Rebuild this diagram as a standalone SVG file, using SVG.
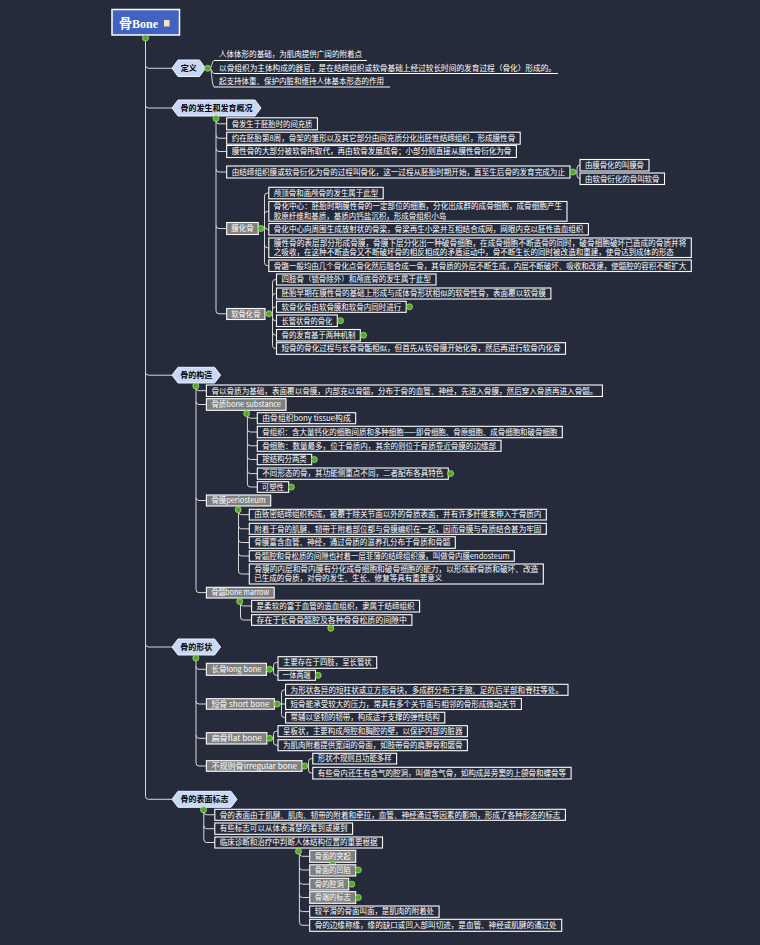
<svg xmlns="http://www.w3.org/2000/svg" width="760" height="945" viewBox="0 0 760 945">
<style>
.bx{fill:#262b3b;stroke:#ffffff;stroke-width:1.1}
.gy{fill:#7f7f7f;stroke:#ffffff;stroke-width:1.1}
.hx{fill:#c9d8f7;stroke:#eef3ff;stroke-width:1}
.t{font-family:"Noto Sans CJK SC","Noto Sans",sans-serif;font-size:7.5px;fill:#ffffff}
.ht{font-family:"Noto Sans CJK SC","Noto Sans",sans-serif;font-size:8px;font-weight:bold;fill:#000000;text-anchor:middle}
.dot{fill:#52a82a;stroke:#a6e07a;stroke-width:0.8}
.cn{fill:none;stroke:#d9d9d9;stroke-width:1}
.ul{stroke:#ffffff;stroke-width:1.1}
</style>
<rect x="0" y="0" width="760" height="945" fill="#262b3b"/>

<g id="connectors" class="cn">
<path d="M145.5,41 V796.3 Q145.5,799.3 148.5,799.3 H172 M145.5,65.25 Q145.5,68.25 148.5,68.25 H172 M145.5,105 Q145.5,108 148.5,108 H172 M145.5,372.2 Q145.5,375.2 148.5,375.2 H172 M145.5,644 Q145.5,647 148.5,647 H172"/>
<path d="M210,68.25 C212,68.25 211.5,60.5 214.5,60.5 M210,68.25 C212,68.25 211.5,73.5 214.5,73.5 M210,68.25 C212,68.25 211.5,87 214.5,87"/>
<path d="M216,121 V310.8 Q216,313.8 219,313.8 H226.7 M216,120.8 Q216,123.8 219,123.8 H226.7 M216,135.2 Q216,138.2 219,138.2 H226.7 M216,148.5 Q216,151.5 219,151.5 H226.7 M216,169 Q216,172 219,172 H226.7 M216,225.5 Q216,228.5 219,228.5 H226.7"/>
<path d="M575,172 H577 M577,172 V168 Q577,165 580,165 M577,172 V175.5 Q577,178.5 580,178.5"/>
<path d="M263,228.5 H264.5 M264.5,196 V262.7 M264.5,196 Q264.5,193 267.5,193 H268.8 M264.5,214.4 Q264.5,211.4 267.5,211.4 H268.8 M264.5,226.2 Q264.5,229.2 267.5,229.2 H268.8 M264.5,244.8 Q264.5,247.8 267.5,247.8 H268.8 M264.5,262.7 Q264.5,265.7 267.5,265.7 H268.8"/>
<path d="M271,313.8 H272.5 M272.5,282.5 V345.5 M272.5,282.5 Q272.5,279.5 275.5,279.5 H276.5 M272.5,296.5 Q272.5,293.5 275.5,293.5 H276.5 M272.5,309.8 Q272.5,306.8 275.5,306.8 H276.5 M272.5,317.7 Q272.5,320.7 275.5,320.7 H276.5 M272.5,332.2 Q272.5,335.2 275.5,335.2 H276.5 M272.5,345.5 Q272.5,348.5 275.5,348.5 H276.5"/>
<path d="M196,388 V589.6 Q196,592.6 199,592.6 H206.4 M196,387.7 Q196,390.7 199,390.7 H206.4 M196,401.5 Q196,404.5 199,404.5 H206.4 M196,497.5 Q196,500.5 199,500.5 H206.4"/>
<path d="M247.4,415.2 V484 Q247.4,487 250.4,487 H257.3 M247.4,415.2 Q247.4,418.2 250.4,418.2 H257.3 M247.4,429 Q247.4,432 250.4,432 H257.3 M247.4,442.8 Q247.4,445.8 250.4,445.8 H257.3 M247.4,456.5 Q247.4,459.5 250.4,459.5 H257.3 M247.4,470.6 Q247.4,473.6 250.4,473.6 H257.3"/>
<path d="M238.5,511.5 V571 Q238.5,574 241.5,574 H249.3 M238.5,511.7 Q238.5,514.7 241.5,514.7 H249.3 M238.5,525.8 Q238.5,528.8 241.5,528.8 H249.3 M238.5,539.5 Q238.5,542.5 241.5,542.5 H249.3 M238.5,553 Q238.5,556 241.5,556 H249.3"/>
<path d="M240.5,603.3 V617 Q240.5,620 243.5,620 H251.6 M240.5,603 Q240.5,606 243.5,606 H251.6"/>
<path d="M196,660 V763 Q196,766 199,766 H206.4 M196,666.3 Q196,669.3 199,669.3 H206.4 M196,701 Q196,704 199,704 H206.4 M196,735.3 Q196,738.3 199,738.3 H206.4"/>
<path d="M271.6,669.3 H273.5 M273.5,665.5 V672.3 M273.5,665.5 Q273.5,662.5 276.5,662.5 H278 M273.5,672.3 Q273.5,675.3 276.5,675.3 H278"/>
<path d="M279.2,704 H285.6 M281.5,692.8 V714.6 M281.5,692.8 Q281.5,689.8 284.5,689.8 H285.6 M281.5,714.6 Q281.5,717.6 284.5,717.6 H285.6"/>
<path d="M271.6,738.3 H273.5 M273.5,734.2 V742.2 M273.5,734.2 Q273.5,731.2 276.5,731.2 H278 M273.5,742.2 Q273.5,745.2 276.5,745.2 H278"/>
<path d="M306.8,766 H308.5 M308.5,761.6 V770.1 M308.5,761.6 Q308.5,758.6 311.5,758.6 H312.8 M308.5,770.1 Q308.5,773.1 311.5,773.1 H312.8"/>
<path d="M203.8,811.5 V839.5 Q203.8,842.5 206.8,842.5 H214.8 M203.8,811.8 Q203.8,814.8 206.8,814.8 H214.8 M203.8,825.7 Q203.8,828.7 206.8,828.7 H214.8"/>
<path d="M299.4,853 V922.3 Q299.4,925.3 302.4,925.3 H309.7 M299.4,853.3 Q299.4,856.3 302.4,856.3 H309.7 M299.4,867 Q299.4,870 302.4,870 H309.7 M299.4,881.2 Q299.4,884.2 302.4,884.2 H309.7 M299.4,894.5 Q299.4,897.5 302.4,897.5 H309.7 M299.4,908.6 Q299.4,911.6 302.4,911.6 H309.7"/>
</g>

<g id="root">
<rect x="112" y="9.5" width="67.5" height="25.5" fill="#4262c2" stroke="#ffffff" stroke-width="1.5"/>
<text x="119" y="28" font-family="Noto Sans CJK SC, sans-serif" font-weight="bold" font-size="13" fill="#ffffff">骨<tspan font-family="Liberation Serif, serif" font-size="12">Bone</tspan></text>
<rect x="164" y="20" width="5.5" height="6.5" fill="#f2e6b8"/>
<circle class="dot" cx="145.5" cy="38" r="3"/>
</g>

<g id="n-def">
<path class="hx" d="M172,68.25 L178,60 L199.5,60 L205.5,68.25 L199.5,76.5 L178,76.5 Z"/>
<text class="ht" x="188.75" y="71.2">定义</text>
<circle class="dot" cx="207.6" cy="68.25" r="3"/>
</g>
<g id="def-1"><text class="t" x="219" y="57.3" textLength="143" lengthAdjust="spacingAndGlyphs">人体体形的基础，为肌肉提供广阔的附着点</text><line class="ul" x1="214" y1="60.5" x2="367" y2="60.5"/></g>
<g id="def-2"><text class="t" x="219" y="70.5" textLength="337" lengthAdjust="spacingAndGlyphs">以骨组织为主体构成的器官，是在结缔组织或软骨基础上经过较长时间的发育过程（骨化）形成的。</text><line class="ul" x1="214" y1="73.5" x2="558" y2="73.5"/></g>
<g id="def-3"><text class="t" x="219" y="84" textLength="165" lengthAdjust="spacingAndGlyphs">起支持体重、保护内脏和维持人体基本形态的作用</text><line class="ul" x1="214" y1="87" x2="390" y2="87"/></g>

<g id="n-dev">
<path class="hx" d="M172,108 L178,100 L255,100 L261,108 L255,116 L178,116 Z"/>
<text class="ht" x="216.5" y="111">骨的发生和发育概况</text>
<circle class="dot" cx="216" cy="118.5" r="3"/>
</g>
<g id="dev-1"><rect class="bx" x="226.7" y="117.8" width="90.7" height="12"/><text class="t" x="231.7" y="126.5" textLength="80.7" lengthAdjust="spacingAndGlyphs">骨发生于胚胎时的间充质</text></g>
<g id="dev-2"><rect class="bx" x="226.7" y="132.2" width="293.5" height="12"/><text class="t" x="231.7" y="140.9" textLength="283.5" lengthAdjust="spacingAndGlyphs">约在胚胎第8周，骨架的雏形以及其它部分由间充质分化出胚性结缔组织，形成膜性骨</text></g>
<g id="dev-3"><rect class="bx" x="226.7" y="145.5" width="289.7" height="12"/><text class="t" x="231.7" y="154.2" textLength="279.7" lengthAdjust="spacingAndGlyphs">膜性骨的大部分被软骨所取代，再由软骨发展成骨；小部分则直接从膜性骨衍化为骨</text></g>
<g id="dev-4"><rect class="bx" x="226.7" y="166" width="343.3" height="12"/><text class="t" x="231.7" y="174.7" textLength="333.3" lengthAdjust="spacingAndGlyphs">由结缔组织膜或软骨衍化为骨的过程叫骨化，这一过程从胚胎时期开始，直至生后骨的发育完成为止</text><circle class="dot" cx="573" cy="172" r="3"/></g>
<g id="dev-4-1"><rect class="bx" x="580" y="159.5" width="69" height="11.5"/><text class="t" x="585" y="168" textLength="59" lengthAdjust="spacingAndGlyphs">由膜骨化的叫膜骨</text></g>
<g id="dev-4-2"><rect class="bx" x="580" y="173" width="84.5" height="11.5"/><text class="t" x="585" y="181.5" textLength="74.5" lengthAdjust="spacingAndGlyphs">由软骨衍化的骨叫软骨</text></g>

<g id="dev-mem"><rect class="gy" x="226.7" y="222.5" width="31.5" height="12"/><text class="t" x="231.2" y="231.2" textLength="22.5" lengthAdjust="spacingAndGlyphs">膜化骨</text><circle class="dot" cx="261" cy="228.5" r="3"/></g>
<g id="mem-1"><rect class="bx" x="268.8" y="187.3" width="114.4" height="11.5"/><text class="t" x="273.8" y="195.8" textLength="104.4" lengthAdjust="spacingAndGlyphs">颅顶骨和面颅骨的发生属于此型</text></g>
<g id="mem-2"><rect class="bx" x="268.8" y="201.5" width="298.2" height="19.7"/><text class="t" x="273.8" y="209.3" textLength="288.2" lengthAdjust="spacingAndGlyphs">骨化中心：胚胎时期膜性骨的一定部位的细胞，分化出成群的成骨细胞，成骨细胞产生</text><text class="t" x="273.8" y="218.6">胶原纤维和基质，基质内钙盐沉积，形成骨组织小岛</text></g>
<g id="mem-3"><rect class="bx" x="268.8" y="223.5" width="319.6" height="11.5"/><text class="t" x="273.8" y="232" textLength="309.6" lengthAdjust="spacingAndGlyphs">骨化中心向周围生成放射状的骨梁，骨梁再生小梁并互相结合成网，网眼内充以胚性造血组织</text></g>
<g id="mem-4"><rect class="bx" x="268.8" y="238" width="422.5" height="19.5"/><text class="t" x="273.8" y="245.8" textLength="412.5" lengthAdjust="spacingAndGlyphs">膜性骨的表层部分形成骨膜，骨膜下层分化出一种破骨细胞，在成骨细胞不断造骨的同时，破骨细胞破坏已造成的骨质并将</text><text class="t" x="273.8" y="255.1" textLength="400" lengthAdjust="spacingAndGlyphs">之吸收，在这种不断造骨又不断破坏骨的相反相成的矛盾运动中，骨不断生长的同时被改造和重建，使骨达到成体的形态</text></g>
<g id="mem-5"><rect class="bx" x="268.8" y="260" width="422.5" height="11.5"/><text class="t" x="273.8" y="268.5" textLength="412.5" lengthAdjust="spacingAndGlyphs">骨骼一般均由几个骨化点骨化然后融合成一骨，其骨质的外层不断生成，内层不断破坏、吸收和改建，使髓腔的容积不断扩大</text></g>

<g id="dev-cart"><rect class="gy" x="226.7" y="308.5" width="38.3" height="11"/><text class="t" x="231.2" y="316.7" textLength="29.3" lengthAdjust="spacingAndGlyphs">软骨化骨</text><circle class="dot" cx="269" cy="313.8" r="3"/></g>
<g id="cart-1"><rect class="bx" x="276.5" y="274" width="159.5" height="11"/><text class="t" x="281.5" y="282.2" textLength="149.5" lengthAdjust="spacingAndGlyphs">四肢骨（锁骨除外）和颅底骨的发生属于此型</text></g>
<g id="cart-2"><rect class="bx" x="276.5" y="288" width="274.4" height="11"/><text class="t" x="281.5" y="296.2" textLength="264.4" lengthAdjust="spacingAndGlyphs">胚胎早期在膜性骨的基础上形成与成体骨形状相似的软骨性骨，表面覆以软骨膜</text></g>
<g id="cart-3"><rect class="bx" x="276.5" y="301.3" width="129.7" height="11"/><text class="t" x="281.5" y="309.5" textLength="119.7" lengthAdjust="spacingAndGlyphs">软骨化骨由软骨膜和软骨内同时进行</text><circle class="dot" cx="409.5" cy="306.8" r="3"/></g>
<g id="cart-4"><rect class="bx" x="276.5" y="315" width="60.8" height="11.5"/><text class="t" x="281.5" y="323.5" textLength="50.8" lengthAdjust="spacingAndGlyphs">长管状骨的骨化</text><circle class="dot" cx="340.5" cy="320.7" r="3"/></g>
<g id="cart-5"><rect class="bx" x="276.5" y="329.5" width="83.8" height="11.5"/><text class="t" x="281.5" y="338" textLength="73.8" lengthAdjust="spacingAndGlyphs">骨的发育基于两种机制</text><circle class="dot" cx="363.5" cy="335.2" r="3"/></g>
<g id="cart-6"><rect class="bx" x="276.5" y="342.7" width="289" height="11.6"/><text class="t" x="281.5" y="351.2" textLength="279" lengthAdjust="spacingAndGlyphs">短骨的骨化过程与长骨骨骺相似，但首先从软骨膜开始化骨，然后再进行软骨内化骨</text></g>

<g id="n-struct">
<path class="hx" d="M172,375.2 L178,367.3 L214.6,367.3 L220.6,375.2 L214.6,383 L178,383 Z"/>
<text class="ht" x="196.3" y="378.2">骨的构造</text>
<circle class="dot" cx="195.8" cy="386" r="3"/>
</g>
<g id="st-1"><rect class="bx" x="206.4" y="385" width="396" height="11.5"/><text class="t" x="211.4" y="393.5" textLength="386" lengthAdjust="spacingAndGlyphs">骨以骨质为基础，表面覆以骨膜，内部充以骨髓，分布于骨的血管、神经，先进入骨膜，然后穿入骨质再进入骨髓。</text></g>
<g id="st-sub"><rect class="gy" x="206.4" y="398.7" width="79.6" height="11.6"/><text class="t" x="211.4" y="407.2" textLength="69.6" lengthAdjust="spacingAndGlyphs">骨质bone substance</text><circle class="dot" cx="246.6" cy="413.5" r="3"/></g>
<g id="sub-1"><rect class="bx" x="257.3" y="412.7" width="98.4" height="11"/><text class="t" x="262.3" y="420.9" textLength="88.4" lengthAdjust="spacingAndGlyphs">由骨组织bony tissue构成</text></g>
<g id="sub-2"><rect class="bx" x="257.3" y="426.3" width="305" height="11.4"/><text class="t" x="262.3" y="434.7" textLength="295" lengthAdjust="spacingAndGlyphs">骨组织：含大量钙化的细胞间质和多种细胞——即骨细胞、骨原细胞、成骨细胞和破骨细胞</text></g>
<g id="sub-3"><rect class="bx" x="257.3" y="440.3" width="243.7" height="11"/><text class="t" x="262.3" y="448.5" textLength="233.7" lengthAdjust="spacingAndGlyphs">骨细胞：数量最多，位于骨质内，其余的则位于骨质靠近骨膜的边缘部</text></g>
<g id="sub-4"><rect class="bx" x="257.3" y="454.3" width="54.4" height="10.4"/><text class="t" x="262.3" y="462.2" textLength="44.4" lengthAdjust="spacingAndGlyphs">按结构分两类</text><circle class="dot" cx="314.3" cy="459.5" r="3"/></g>
<g id="sub-5"><rect class="bx" x="257.3" y="468" width="191" height="11.3"/><text class="t" x="262.3" y="476.3" textLength="181" lengthAdjust="spacingAndGlyphs">不同形态的骨，其功能侧重点不同，二者配布各具特色</text><circle class="dot" cx="450.6" cy="473.6" r="3"/></g>
<g id="sub-6"><rect class="bx" x="257.3" y="481.7" width="31.4" height="10.6"/><text class="t" x="261.8" y="489.7" textLength="22" lengthAdjust="spacingAndGlyphs">可塑性</text><circle class="dot" cx="291.4" cy="487" r="3"/></g>

<g id="st-peri"><rect class="gy" x="206.4" y="495" width="64.3" height="11"/><text class="t" x="211.4" y="503.2" textLength="54.3" lengthAdjust="spacingAndGlyphs">骨膜periosteum</text><circle class="dot" cx="238.2" cy="509.7" r="3"/></g>
<g id="peri-1"><rect class="bx" x="249.3" y="509.3" width="297" height="10.7"/><text class="t" x="254.3" y="517.4" textLength="287" lengthAdjust="spacingAndGlyphs">由致密结缔组织构成，被覆于除关节面以外的骨质表面，并有许多纤维束伸入于骨质内</text></g>
<g id="peri-2"><rect class="bx" x="249.3" y="523.3" width="297" height="11"/><text class="t" x="254.3" y="531.5" textLength="287" lengthAdjust="spacingAndGlyphs">附着于骨的肌腱、韧带于附着部位都与骨膜编织在一起，因而骨膜与骨质结合甚为牢固</text></g>
<g id="peri-3"><rect class="bx" x="249.3" y="536.7" width="206" height="11.6"/><text class="t" x="254.3" y="545.2" textLength="196" lengthAdjust="spacingAndGlyphs">骨膜富含血管、神经，通过骨质的滋养孔分布于骨质和骨髓</text></g>
<g id="peri-4"><rect class="bx" x="249.3" y="550.7" width="265" height="10.6"/><text class="t" x="254.3" y="558.7" textLength="255" lengthAdjust="spacingAndGlyphs">骨髓腔和骨松质的间隙也衬着一层菲薄的结缔组织膜，叫做骨内膜endosteum</text></g>
<g id="peri-5"><rect class="bx" x="249.3" y="564" width="294" height="20"/><text class="t" x="254.3" y="571.7" textLength="284" lengthAdjust="spacingAndGlyphs">骨膜的内层和骨内膜有分化成骨细胞和破骨细胞的能力，以形成新骨质和破坏、改造</text><text class="t" x="254.3" y="581.2" textLength="188" lengthAdjust="spacingAndGlyphs">已生成的骨质，对骨的发生、生长、修复等具有重要意义</text></g>

<g id="st-marrow"><rect class="gy" x="206.4" y="587.3" width="67.8" height="10.7"/><text class="t" x="211.4" y="595.4" textLength="57.8" lengthAdjust="spacingAndGlyphs">骨髓bone marrow</text><circle class="dot" cx="239.7" cy="601.5" r="3"/></g>
<g id="mar-1"><rect class="bx" x="251.6" y="600.3" width="168" height="11.7"/><text class="t" x="256.6" y="608.8" textLength="158" lengthAdjust="spacingAndGlyphs">是柔软的富于血管的造血组织，隶属于结缔组织</text></g>
<g id="mar-2"><rect class="bx" x="251.6" y="614.7" width="160.3" height="10.6"/><text class="t" x="256.6" y="622.7" textLength="150.3" lengthAdjust="spacingAndGlyphs">存在于长骨骨髓腔及各种骨骨松质的间隙中</text><circle class="dot" cx="330.8" cy="628.3" r="3"/></g>

<g id="n-shape">
<path class="hx" d="M172,647 L178,639 L214.6,639 L220.6,647 L214.6,655 L178,655 Z"/>
<text class="ht" x="196.3" y="650">骨的形状</text>
<circle class="dot" cx="195.8" cy="658" r="3"/>
</g>
<g id="sh-long"><rect class="gy" x="206.4" y="663.3" width="60" height="12"/><text class="t" x="211.4" y="672" textLength="50" lengthAdjust="spacingAndGlyphs">长骨long bone</text><circle class="dot" cx="269.6" cy="669.3" r="3"/></g>
<g id="long-1"><rect class="bx" x="278" y="656.7" width="98.7" height="11.6"/><text class="t" x="283" y="665.2" textLength="88.7" lengthAdjust="spacingAndGlyphs">主要存在于四肢，呈长管状</text></g>
<g id="long-2"><rect class="bx" x="278" y="670.3" width="37.5" height="10"/><text class="t" x="282.5" y="678" textLength="28" lengthAdjust="spacingAndGlyphs">一体两端</text><circle class="dot" cx="318.2" cy="675.3" r="3"/></g>
<g id="sh-short"><rect class="gy" x="206.4" y="698.7" width="68" height="10.5"/><text class="t" x="211.4" y="706.6" textLength="58" lengthAdjust="spacingAndGlyphs">短骨 short bone</text><circle class="dot" cx="277.2" cy="704" r="3"/></g>
<g id="short-1"><rect class="bx" x="285.6" y="684.3" width="282.4" height="11"/><text class="t" x="290.6" y="692.5" textLength="272.4" lengthAdjust="spacingAndGlyphs">为形状各异的短柱状或立方形骨块，多成群分布于手腕、足的后半部和脊柱等处。</text></g>
<g id="short-2"><rect class="bx" x="285.6" y="698.5" width="235.8" height="11"/><text class="t" x="290.6" y="706.7" textLength="225.8" lengthAdjust="spacingAndGlyphs">短骨能承受较大的压力，常具有多个关节面与相邻的骨形成微动关节</text></g>
<g id="short-3"><rect class="bx" x="285.6" y="712.3" width="159.2" height="10.7"/><text class="t" x="290.6" y="720.4" textLength="149.2" lengthAdjust="spacingAndGlyphs">常辅以坚韧的韧带，构成适于支撑的弹性结构</text></g>
<g id="sh-flat"><rect class="gy" x="206.4" y="732.7" width="60.5" height="11.3"/><text class="t" x="211.4" y="741" textLength="50.5" lengthAdjust="spacingAndGlyphs">扁骨flat bone</text><circle class="dot" cx="269.6" cy="738.3" r="3"/></g>
<g id="flat-1"><rect class="bx" x="278" y="725.7" width="189.4" height="11"/><text class="t" x="283" y="733.9" textLength="179.4" lengthAdjust="spacingAndGlyphs">呈板状，主要构成颅腔和胸腔的壁，以保护内部的脏器</text></g>
<g id="flat-2"><rect class="bx" x="278" y="739.7" width="189.4" height="11"/><text class="t" x="283" y="747.9" textLength="179.4" lengthAdjust="spacingAndGlyphs">为肌肉附着提供宽阔的骨面，如肢带骨的肩胛骨和髋骨</text></g>
<g id="sh-irr"><rect class="gy" x="206.4" y="760.7" width="95.6" height="10.6"/><text class="t" x="211.4" y="768.7" textLength="85.6" lengthAdjust="spacingAndGlyphs">不规则骨irregular bone</text><circle class="dot" cx="304.8" cy="766" r="3"/></g>
<g id="irr-1"><rect class="bx" x="312.8" y="753.3" width="83.8" height="10.7"/><text class="t" x="317.8" y="761.4" textLength="73.8" lengthAdjust="spacingAndGlyphs">形状不规则且功能多样</text></g>
<g id="irr-2"><rect class="bx" x="312.8" y="767.3" width="258.3" height="11.7"/><text class="t" x="317.8" y="775.8" textLength="248.3" lengthAdjust="spacingAndGlyphs">有些骨内还生有含气的腔洞，叫做含气骨，如构成鼻旁窦的上颌骨和蝶骨等</text></g>

<g id="n-mark">
<path class="hx" d="M172,799.3 L178,791.3 L231,791.3 L237,799.3 L231,807.3 L178,807.3 Z"/>
<text class="ht" x="204.5" y="802.3">骨的表面标志</text>
<circle class="dot" cx="203.5" cy="809.8" r="3"/>
</g>
<g id="mk-1"><rect class="bx" x="214.8" y="809.3" width="350.6" height="11"/><text class="t" x="219.8" y="817.5" textLength="340.6" lengthAdjust="spacingAndGlyphs">骨的表面由于肌腱、肌肉、韧带的附着和牵拉，血管、神经通过等因素的影响，形成了各种形态的标志</text></g>
<g id="mk-2"><rect class="bx" x="214.8" y="823" width="137.8" height="11.3"/><text class="t" x="219.8" y="831.3" textLength="127.8" lengthAdjust="spacingAndGlyphs">有些标志可以从体表清楚的看到或摸到</text></g>
<g id="mk-3"><rect class="bx" x="214.8" y="837" width="167.7" height="11"/><text class="t" x="219.8" y="845.2" textLength="157.7" lengthAdjust="spacingAndGlyphs">临床诊断和治疗中判断人体结构位置的重要根据</text><circle class="dot" cx="298.5" cy="851.3" r="3"/></g>
<g id="mk-3-1"><rect class="gy" x="309.7" y="850.3" width="46" height="12"/><text class="t" x="314.7" y="859" textLength="36" lengthAdjust="spacingAndGlyphs">骨面的突起</text><circle class="dot" cx="332.7" cy="864" r="3"/></g>
<g id="mk-3-2"><rect class="gy" x="309.7" y="864.8" width="46" height="11.2"/><text class="t" x="314.7" y="873" textLength="36" lengthAdjust="spacingAndGlyphs">骨面的凹陷</text><circle class="dot" cx="358.3" cy="870" r="3"/></g>
<g id="mk-3-3"><rect class="gy" x="309.7" y="878.3" width="39" height="11.7"/><text class="t" x="314.7" y="886.8" textLength="29" lengthAdjust="spacingAndGlyphs">骨的腔洞</text><circle class="dot" cx="351.8" cy="884.2" r="3"/></g>
<g id="mk-3-4"><rect class="gy" x="309.7" y="891.7" width="46" height="11.6"/><text class="t" x="314.7" y="900.2" textLength="36" lengthAdjust="spacingAndGlyphs">骨端的标志</text><circle class="dot" cx="358.3" cy="897.5" r="3"/></g>
<g id="mk-3-5"><rect class="bx" x="309.7" y="906" width="129.4" height="11.3"/><text class="t" x="314.7" y="914.3" textLength="119.4" lengthAdjust="spacingAndGlyphs">较平滑的骨面叫面，是肌肉的附着处</text></g>
<g id="mk-3-6"><rect class="bx" x="309.7" y="919.3" width="252" height="12"/><text class="t" x="314.7" y="928" textLength="242" lengthAdjust="spacingAndGlyphs">骨的边缘称缘，缘的缺口或凹入部叫切迹，是血管、神经或肌腱的通过处</text></g>
</svg>
